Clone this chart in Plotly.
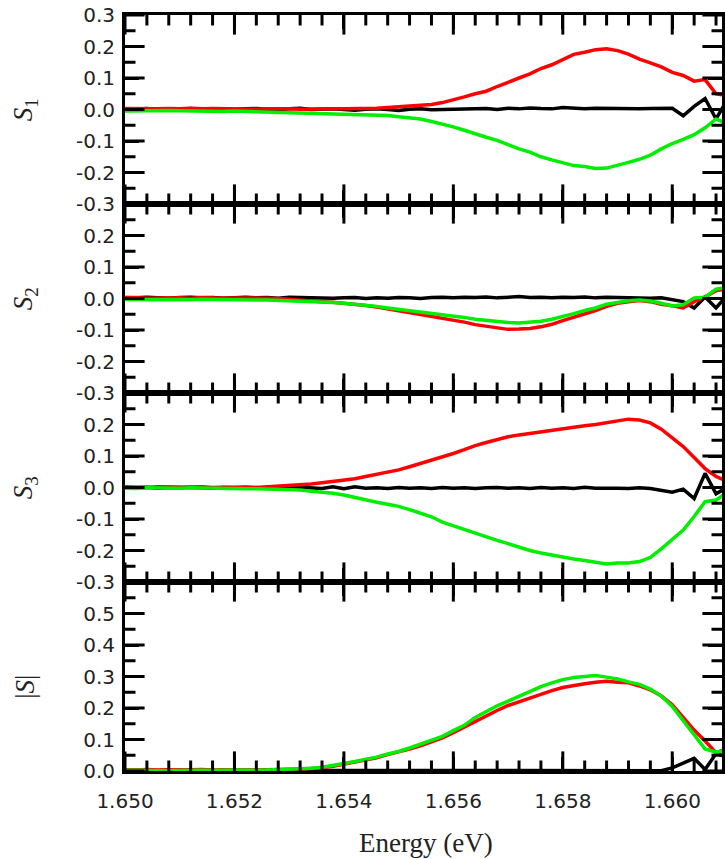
import plotly.graph_objects as go

# Energy axis (eV), step 0.0002
energy = [round(1.650 + 0.0002 * i, 4) for i in range(56)]

s1_red = [0.003, 0.002, 0.003, 0.002, 0.003, 0.002, 0.004, 0.002, 0.003, 0.002,
          0.003, 0.002, 0.001, 0.002, 0.003, 0.002, 0.001, 0.002, 0.001, 0.002,
          0.002, 0.002, 0.003, 0.004, 0.006, 0.008, 0.010, 0.012, 0.016, 0.022,
          0.030, 0.040, 0.050, 0.058, 0.073, 0.088, 0.100, 0.113, 0.130, 0.142,
          0.160, 0.175, 0.182, 0.190, 0.193, 0.187, 0.176, 0.160, 0.148, 0.135,
          0.118, 0.108, 0.090, 0.095, 0.050, 0.045]
s1_green = [-0.005, -0.004, -0.005, -0.004, -0.003, -0.004, -0.005, -0.004, -0.005, -0.006,
            -0.005, -0.006, -0.007, -0.007, -0.008, -0.009, -0.010, -0.010, -0.011, -0.012,
            -0.013, -0.014, -0.015, -0.016, -0.019, -0.023, -0.026, -0.030, -0.038, -0.046,
            -0.055, -0.066, -0.078, -0.088, -0.098, -0.112, -0.125, -0.135, -0.150, -0.160,
            -0.170, -0.178, -0.181, -0.187, -0.186, -0.178, -0.168, -0.158, -0.145, -0.125,
            -0.108, -0.095, -0.080, -0.058, -0.030, -0.045]
s1_black = [0.002, 0.001, 0.003, 0.000, 0.002, 0.001, 0.003, -0.001, 0.002, 0.001,
            0.000, 0.002, 0.003, 0.001, -0.001, 0.002, 0.004, 0.000, 0.001, 0.002,
            0.000, -0.002, 0.001, 0.002, 0.000, -0.003, 0.001, 0.002, -0.001, 0.000,
            0.001, 0.003, 0.002, 0.003, 0.000, 0.004, 0.002, 0.005, 0.003, 0.002,
            0.006, 0.003, 0.002, 0.004, 0.003, 0.002, 0.001, 0.002, 0.003, 0.004,
            0.004, -0.020, 0.010, 0.035, -0.030, 0.030]

s2_red = [0.002, 0.003, 0.001, 0.002, 0.003, 0.002, 0.001, 0.003, 0.002, 0.002,
          0.001, 0.003, 0.002, 0.001, 0.000, -0.003, -0.005, -0.008, -0.010, -0.012,
          -0.015, -0.018, -0.022, -0.027, -0.033, -0.038, -0.044, -0.050, -0.055, -0.062,
          -0.068, -0.075, -0.083, -0.088, -0.095, -0.098, -0.097, -0.095, -0.090, -0.082,
          -0.070, -0.060, -0.048, -0.038, -0.025, -0.015, -0.010, -0.006, -0.010, -0.018,
          -0.023, -0.030, -0.010, 0.005, 0.025, 0.030]
s2_green = [-0.003, -0.002, -0.004, -0.003, -0.002, -0.003, -0.004, -0.002, -0.003, -0.004,
            -0.003, -0.004, -0.005, -0.005, -0.006, -0.007, -0.008, -0.009, -0.011, -0.013,
            -0.015, -0.018, -0.021, -0.025, -0.030, -0.034, -0.038, -0.043, -0.047, -0.052,
            -0.056, -0.060, -0.066, -0.070, -0.073, -0.076, -0.078, -0.076, -0.072, -0.066,
            -0.058, -0.048, -0.038, -0.030, -0.018, -0.012, -0.007, -0.005, -0.008, -0.015,
            -0.024, -0.020, 0.002, 0.004, 0.030, 0.035]
s2_black = [0.003, 0.002, 0.004, 0.003, 0.001, 0.003, 0.004, 0.002, 0.003, 0.001,
            0.003, 0.004, 0.002, 0.003, 0.001, 0.004, 0.003, 0.002, 0.003, 0.001,
            0.002, 0.003, 0.000, 0.002, 0.001, 0.003, 0.002, 0.000, 0.003, 0.004,
            0.002, 0.004, 0.003, 0.005, 0.002, 0.004, 0.006, 0.003, 0.004, 0.002,
            0.004, 0.003, 0.005, 0.002, 0.004, 0.003, 0.002, 0.003, 0.001, 0.002,
            -0.005, -0.010, -0.030, 0.005, -0.030, 0.010]

s3_red = [0.002, 0.001, 0.000, 0.002, 0.001, 0.000, 0.001, 0.002, 0.000, 0.001,
          0.002, 0.001, 0.000, 0.002, 0.003, 0.005, 0.008, 0.011, 0.015, 0.019,
          0.024, 0.028, 0.035, 0.042, 0.050, 0.056, 0.066, 0.076, 0.087, 0.098,
          0.108, 0.120, 0.133, 0.143, 0.153, 0.161, 0.167, 0.172, 0.178, 0.183,
          0.188, 0.192, 0.196, 0.200, 0.205, 0.211, 0.217, 0.214, 0.205, 0.185,
          0.158, 0.130, 0.095, 0.060, 0.035, 0.020]
s3_green = [-0.002, -0.003, -0.001, -0.002, -0.003, -0.002, -0.001, -0.002, -0.003, -0.002,
            -0.003, -0.004, -0.004, -0.005, -0.006, -0.007, -0.008, -0.012, -0.015, -0.018,
            -0.024, -0.032, -0.040, -0.047, -0.053, -0.060, -0.070, -0.082, -0.093, -0.110,
            -0.122, -0.133, -0.145, -0.158, -0.168, -0.178, -0.190, -0.200, -0.208, -0.215,
            -0.222, -0.227, -0.232, -0.237, -0.243, -0.240, -0.240, -0.235, -0.222, -0.195,
            -0.165, -0.135, -0.092, -0.045, -0.040, -0.015]
s3_black = [0.000, -0.001, 0.001, -0.002, 0.000, -0.001, 0.001, 0.000, -0.002, 0.000,
            -0.001, 0.001, 0.000, -0.002, 0.000, -0.001, 0.001, 0.000, -0.003, 0.002,
            -0.004, 0.002, -0.002, -0.001, -0.003, 0.000, -0.002, -0.001, -0.003, 0.000,
            -0.002, -0.001, -0.003, -0.001, 0.000, -0.002, -0.001, -0.003, 0.000, -0.002,
            -0.001, -0.003, 0.001, -0.002, -0.001, -0.002, -0.003, -0.001, -0.003, -0.008,
            -0.015, -0.005, -0.035, 0.045, -0.020, 0.000]

s4_red = [0.004, 0.003, 0.005, 0.003, 0.004, 0.003, 0.004, 0.005, 0.003, 0.004,
          0.003, 0.004, 0.003, 0.004, 0.004, 0.005, 0.006, 0.008, 0.010, 0.015,
          0.022, 0.028, 0.035, 0.042, 0.052, 0.060, 0.070, 0.080, 0.093, 0.105,
          0.122, 0.140, 0.158, 0.175, 0.192, 0.208, 0.220, 0.232, 0.245, 0.255,
          0.265, 0.272, 0.277, 0.282, 0.285, 0.282, 0.280, 0.270, 0.258, 0.238,
          0.210, 0.170, 0.130, 0.095, 0.058, 0.070]
s4_green = [0.002, 0.003, 0.002, 0.001, 0.002, 0.003, 0.002, 0.002, 0.001, 0.002,
            0.003, 0.002, 0.002, 0.003, 0.004, 0.005, 0.007, 0.009, 0.012, 0.017,
            0.024, 0.030, 0.036, 0.044, 0.054, 0.062, 0.073, 0.085, 0.097, 0.110,
            0.128, 0.145, 0.170, 0.190, 0.207, 0.222, 0.238, 0.252, 0.268, 0.280,
            0.290, 0.297, 0.300, 0.303, 0.298, 0.292, 0.283, 0.275, 0.260, 0.238,
            0.205, 0.160, 0.115, 0.070, 0.060, 0.065]
s4_black = [0.002, 0.003, 0.001, 0.002, 0.003, 0.002, 0.001, 0.003, 0.002, 0.002,
            0.001, 0.003, 0.002, 0.001, 0.002, 0.003, 0.002, 0.001, 0.002, 0.003,
            0.002, 0.002, 0.001, 0.003, 0.002, 0.001, 0.002, 0.003, 0.002, 0.001,
            0.002, 0.003, 0.002, 0.002, 0.001, 0.003, 0.002, 0.001, 0.002, 0.003,
            0.002, 0.001, 0.002, 0.003, 0.002, 0.002, 0.001, 0.002, 0.003, 0.001,
            0.010, 0.025, 0.040, 0.005, 0.055, 0.045]

panels = [
    (s1_black, s1_red, s1_green),
    (s2_black, s2_red, s2_green),
    (s3_black, s3_red, s3_green),
    (s4_black, s4_red, s4_green),
]
y_titles = ["<i>S</i><sub>1</sub>", "<i>S</i><sub>2</sub>", "<i>S</i><sub>3</sub>", "|<i>S</i>|"]
y_tickvals = [
    [0.3, 0.2, 0.1, 0.0, -0.1, -0.2, -0.3],
    [0.2, 0.1, 0.0, -0.1, -0.2, -0.3],
    [0.2, 0.1, 0.0, -0.1, -0.2, -0.3],
    [0.5, 0.4, 0.3, 0.2, 0.1, 0.0],
]
y_ranges = [[-0.3, 0.3], [-0.3, 0.3], [-0.3, 0.3], [0.0, 0.6]]
x_range = [1.650, 1.660909]
x_major = [1.650, 1.652, 1.654, 1.656, 1.658, 1.660]
x_minor = [round(1.650 + 0.0004 * k, 4) for k in range(28) if k % 5 != 0]
y_major_marks = [[-0.3, -0.2, -0.1, 0.0, 0.1, 0.2, 0.3]] * 3 + [[0.0, 0.1, 0.2, 0.3, 0.4, 0.5, 0.6]]
y_minor_marks = [[-0.25, -0.15, -0.05, 0.05, 0.15, 0.25]] * 3 + [[0.05, 0.15, 0.25, 0.35, 0.45, 0.55]]
colors = ["#000000", "#ff0000", "#00ee00"]
doms = [[0.75, 1.0], [0.5, 0.75], [0.25, 0.5], [0.0, 0.25]]

fig = go.Figure()
for r, series in enumerate(panels, start=1):
    sfx = "" if r == 1 else str(r)
    for s, c in zip(series, colors):
        fig.add_trace(go.Scatter(x=energy, y=s, mode="lines", xaxis="x" + sfx, yaxis="y" + sfx,
                                 line=dict(color=c, width=3.5), showlegend=False,
                                 hoverinfo="skip"))

# inward tick marks on all four sides of each panel (clipped to the plot area)
def tick_trace(xs, ys, symbol, size, sfx):
    return go.Scatter(x=xs, y=ys, mode="markers", xaxis="x" + sfx, yaxis="y" + sfx,
                      marker=dict(symbol=symbol, size=size, color="black",
                                  line=dict(width=3, color="black")),
                      showlegend=False, hoverinfo="skip", cliponaxis=True)

for r in range(1, 5):
    sfx = "" if r == 1 else str(r)
    y0, y1 = y_ranges[r - 1]
    x0, x1 = x_range
    fig.add_trace(tick_trace(x_major * 2, [y0] * len(x_major) + [y1] * len(x_major), "line-ns", 28, sfx))
    fig.add_trace(tick_trace(x_minor * 2, [y0] * len(x_minor) + [y1] * len(x_minor), "line-ns", 15, sfx))
    ym = y_major_marks[r - 1]
    yn = y_minor_marks[r - 1]
    fig.add_trace(tick_trace([x0] * len(ym) + [x1] * len(ym), ym * 2, "line-ew", 28, sfx))
    fig.add_trace(tick_trace([x0] * len(yn) + [x1] * len(yn), yn * 2, "line-ew", 15, sfx))

base = dict(ticks="inside", ticklen=14, tickwidth=3, tickcolor="black",
            showline=True, linewidth=3, linecolor="black", mirror="allticks",
            showgrid=False, zeroline=False,
            tickfont=dict(family="DejaVu Sans", size=20, color="#222222"))

lay = {}
for r in range(1, 5):
    sfx = "" if r == 1 else str(r)
    tv = y_tickvals[r - 1]
    lay["yaxis" + sfx] = dict(
        base, domain=doms[r - 1], anchor="x" + sfx, range=y_ranges[r - 1],
        tickmode="array", tickvals=tv, ticktext=["%.1f" % v for v in tv],
        ticklabelstandoff=3,
    )
    lay["xaxis" + sfx] = dict(
        base, anchor="y" + sfx, range=x_range, tick0=1.650, dtick=0.002,
        tickformat=".3f", showticklabels=(r == 4), ticklabelstandoff=10,
    )

title_y = [0.875, 0.625, 0.375, 0.111]
ann = []
for t, yy in zip(y_titles, title_y):
    ann.append(dict(text=t, xref="paper", yref="paper", x=-0.168, y=yy,
                    xanchor="center", yanchor="middle", textangle=-90, showarrow=False,
                    font=dict(family="Liberation Serif", size=27, color="#222222")))
ann.append(dict(text="Energy (eV)", xref="paper", yref="paper", x=0.505, y=-0.095,
                xanchor="center", yanchor="middle", showarrow=False,
                font=dict(family="Liberation Serif", size=27, color="#222222")))

fig.update_layout(**lay, width=725, height=859, margin=dict(l=125, r=0, t=15, b=88),
                  plot_bgcolor="white", paper_bgcolor="white", annotations=ann)
fig.write_html("out.html")
